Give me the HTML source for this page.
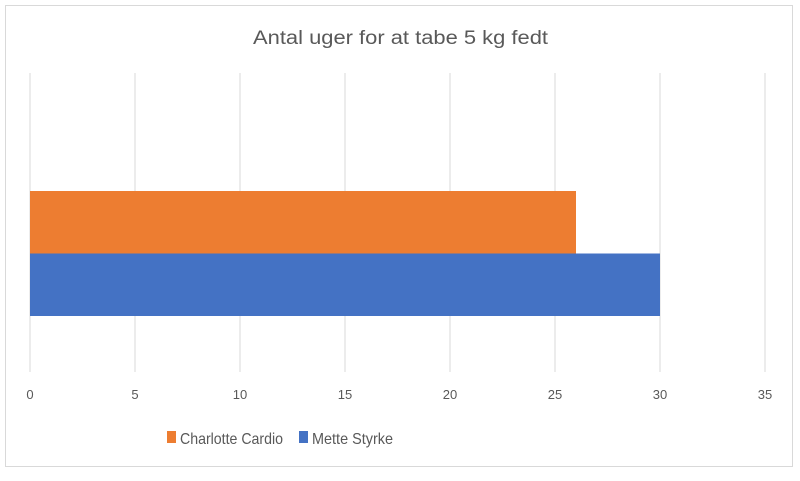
<!DOCTYPE html>
<html><head><meta charset="utf-8">
<style>
html,body{margin:0;padding:0;background:#fff;}
body{width:800px;height:476px;overflow:hidden;font-family:"Liberation Sans",sans-serif;}
</style></head>
<body>
<svg width="800" height="476">
<rect x="5.5" y="5.5" width="787" height="461" fill="#fff" stroke="#d9d9d9"/>
<text x="253" y="44" textLength="295" lengthAdjust="spacingAndGlyphs" font-size="19" fill="#595959">Antal uger for at tabe 5 kg fedt</text>
<g id="grid"></g>
<g id="bars"></g>
<g id="ticks"></g>
<g>
<rect x="167" y="431" width="9" height="12" fill="#ED7D31"/>
<text x="180" y="444" font-size="16" textLength="103" lengthAdjust="spacingAndGlyphs" fill="#595959">Charlotte Cardio</text>
<rect x="299" y="431" width="9" height="12" fill="#4472C4"/>
<text x="312" y="444" font-size="16" textLength="81" lengthAdjust="spacingAndGlyphs" fill="#595959">Mette Styrke</text>
</g>
</svg>
<script>
const ticks=[0,5,10,15,20,25,30,35];
const seriesNames=["Charlotte Cardio","Mette Styrke"];
const seriesValues=[26,30];
const seriesColors=["#ED7D31","#4472C4"];
const NS="http://www.w3.org/2000/svg";
const x0=30,xPer=21,plotTop=73,plotBottom=372;
const xs=v=>x0+v*xPer;
const g=document.getElementById('grid'),b=document.getElementById('bars'),t=document.getElementById('ticks');
ticks.forEach(v=>{
  const l=document.createElementNS(NS,'line');
  l.setAttribute('x1',xs(v));l.setAttribute('x2',xs(v));l.setAttribute('y1',plotTop);l.setAttribute('y2',plotBottom);
  l.setAttribute('stroke','#d9d9d9');l.setAttribute('stroke-width','1');
  
  
  g.appendChild(l);
  const tx=document.createElementNS(NS,'text');
  tx.setAttribute('x',xs(v));tx.setAttribute('y',399);tx.setAttribute('text-anchor','middle');
  tx.setAttribute('font-size','13');tx.setAttribute('fill','#595959');tx.textContent=v;
  
  
  t.appendChild(tx);
});
const barTop=191,barH=62.5;
seriesValues.forEach((v,i)=>{
  const r=document.createElementNS(NS,'rect');
  r.setAttribute('x',xs(0));r.setAttribute('y',barTop+i*barH);
  r.setAttribute('width',xs(v)-xs(0));r.setAttribute('height',barH);
  r.setAttribute('fill',seriesColors[i]);
  
  
  b.appendChild(r);
});
</script>
</body></html>
